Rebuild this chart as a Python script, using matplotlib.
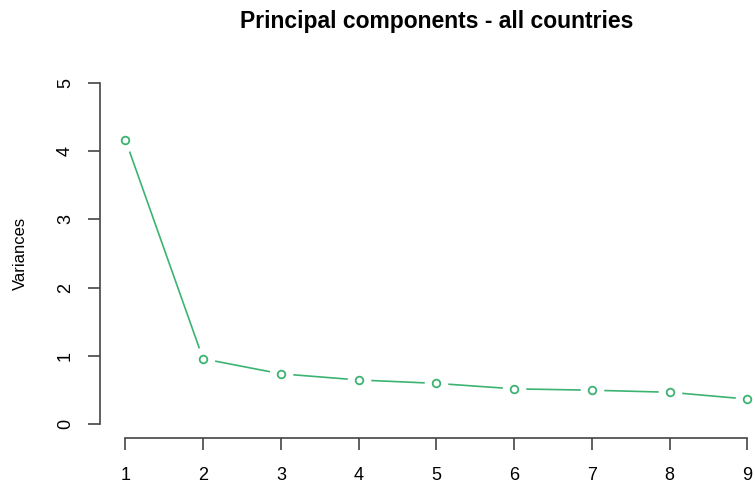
import matplotlib
matplotlib.use("Agg")
import matplotlib.pyplot as plt

# --- data ---
components = [1, 2, 3, 4, 5, 6, 7, 8, 9]
variances = [4.17, 0.96, 0.74, 0.65, 0.60, 0.52, 0.50, 0.47, 0.37]

LINE_COLOR = "#3cb371"
AXIS_COLOR = "#444444"

plt.rcParams['font.family'] = ['Liberation Sans', 'DejaVu Sans']

fig = plt.figure(figsize=(7.55, 4.84), dpi=100)
ax = fig.add_axes([0.133, 0.095, 0.890, 0.762])

# R style "type='b'": line with gaps around hollow points
ax.plot(components, variances, color=LINE_COLOR, linewidth=1.2, zorder=1)
ax.plot(components, variances, linestyle="none", marker="o", markersize=17,
        markerfacecolor="white", markeredgecolor="none", zorder=2)
ax.plot(components, variances, linestyle="none", marker="o", markersize=5.5,
        markerfacecolor="white", markeredgecolor=LINE_COLOR,
        markeredgewidth=1.3, zorder=3)

ax.set_xlim(0.68, 9.32)
ax.set_ylim(-0.2, 5.2)

ax.spines['top'].set_visible(False)
ax.spines['right'].set_visible(False)
ax.spines['left'].set_bounds(0, 5)
ax.spines['bottom'].set_bounds(1, 9)
for s in ('left', 'bottom'):
    ax.spines[s].set_color(AXIS_COLOR)
    ax.spines[s].set_linewidth(1.2)

ax.set_xticks(components)
ax.set_yticks([0, 1, 2, 3, 4, 5])
ax.tick_params(axis='both', direction='out', length=8.5, width=1.2,
               color=AXIS_COLOR, labelsize=13)
ax.tick_params(axis='x', pad=12.5)
ax.tick_params(axis='y', pad=10.5)
for lab in ax.get_yticklabels():
    lab.set_rotation(90)
    lab.set_va('center')

ax.set_ylabel("Variances", fontsize=12, labelpad=14)
ax.yaxis.set_label_coords(-0.108, 0.5)

fig.text(0.579, 0.955, "Principal components - all countries",
         ha='center', va='center', fontsize=16.5, fontweight='bold')

fig.savefig("out.png", dpi=100)
